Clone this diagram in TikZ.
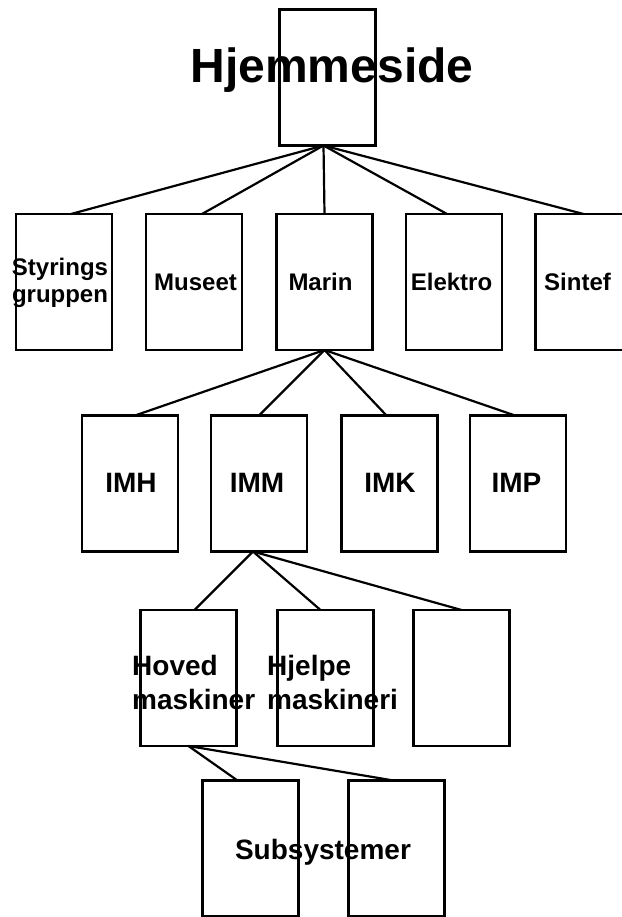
\documentclass[tikz,border=0pt]{standalone}
\usepackage{fontspec}
\setmainfont{Liberation Sans}
\usepackage{tikz}
\usetikzlibrary{positioning}

\tikzset{
  box/.style={draw, line width=2.2pt, inner sep=0pt, outer sep=0pt,
    minimum width=96pt, minimum height=136pt},
  link/.style={line width=2.2pt},
  lbl/.style 2 args={inner sep=0pt, font=\bfseries\fontsize{#1}{#2}\selectfont},
}

\begin{document}
\begin{tikzpicture}[x=1pt, y=-1pt]
  \useasboundingbox (0,0) rectangle (621,917);

  % Top
  \node[box] (hjem) at (327.5,77.5) {};

  % Second row
  \node[box] (styr) at (64,282) {};
  \node[box] (mus)  at (194,282) {};
  \node[box] (mar)  at (324.5,282) {};
  \node[box] (ele)  at (454,282) {};
  \node[box] (sin)  at (583.5,282) {};

  % Third row
  \node[box] (imh) at (130,483.5) {};
  \node[box] (imm) at (259,483.5) {};
  \node[box] (imk) at (389.5,483.5) {};
  \node[box] (imp) at (518,483.5) {};

  % Fourth row
  \node[box] (hov) at (188.5,678) {};
  \node[box] (hje) at (325.5,678) {};
  \node[box] (tom) at (461.5,678) {};

  % Bottom
  \node[box] (subA) at (250.5,848.5) {};
  \node[box] (subB) at (396.5,848.5) {};

  % Connectors
  \draw[link] ([xshift=-4pt]hjem.south) -- ([xshift=7pt]styr.north);
  \draw[link] ([xshift=-4pt]hjem.south) -- ([xshift=8pt]mus.north);
  \draw[link] ([xshift=-4pt]hjem.south) -- (mar.north);
  \draw[link] ([xshift=-4pt]hjem.south) -- ([xshift=-7pt]ele.north);
  \draw[link] ([xshift=-4pt]hjem.south) -- (sin.north);

  \draw[link] (mar.south) -- ([xshift=5pt]imh.north);
  \draw[link] (mar.south) -- (imm.north);
  \draw[link] (mar.south) -- ([xshift=-3pt]imk.north);
  \draw[link] (mar.south) -- ([xshift=-3pt]imp.north);

  \draw[link] ([xshift=-6pt]imm.south) -- ([xshift=6pt]hov.north);
  \draw[link] ([xshift=-6pt]imm.south) -- ([xshift=-5pt]hje.north);
  \draw[link] ([xshift=-6pt]imm.south) -- (tom.north);

  \draw[link] (hov.south) -- ([xshift=-13pt]subA.north);
  \draw[link] (hov.south) -- ([xshift=-3pt]subB.north);

  % Labels
  \node[lbl={48}{58}, anchor=base] (tHjem) at (332,83) {Hjemmeside};

  \node[lbl={24}{27}, align=center] (tStyr) at (60,283) {Styrings\\gruppen};
  \node[lbl={24}{29}, anchor=base] (tMus) at (195.5,290) {Museet};
  \node[lbl={24}{29}, anchor=base] (tMar) at (320.5,290) {Marin};
  \node[lbl={24}{29}, anchor=base] (tEle) at (451.5,290) {Elektro};
  \node[lbl={24}{29}, anchor=base] (tSin) at (577.5,290) {Sintef};

  \node[lbl={28}{34}, anchor=base] (tImh) at (131,492) {IMH};
  \node[lbl={28}{34}, anchor=base] (tImm) at (257,492) {IMM};
  \node[lbl={28}{34}, anchor=base] (tImk) at (390,492) {IMK};
  \node[lbl={28}{34}, anchor=base] (tImp) at (516.5,492) {IMP};

  \node[lbl={28}{34}, align=left, anchor=west] (tHov) at (132,682) {Hoved\\maskiner};
  \node[lbl={28}{34}, align=left, anchor=west] (tHje) at (267,682) {Hjelpe\\maskineri};

  \node[lbl={28}{34}, anchor=base] (tSub) at (323,859) {Subsystemer};
\end{tikzpicture}
\end{document}
